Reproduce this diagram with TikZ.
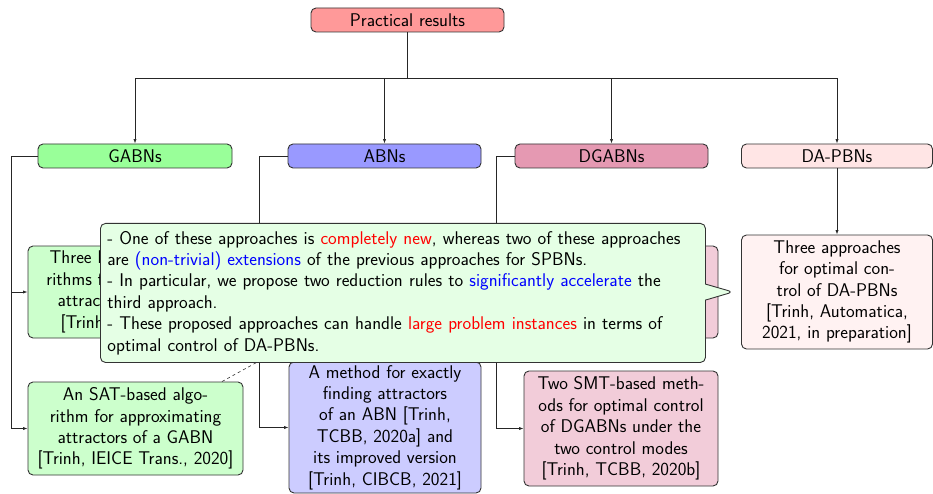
\documentclass[tikz,border=0pt]{standalone}
\usetikzlibrary{shapes.callouts,arrows.meta,calc}
\begin{document}
\begin{tikzpicture}[x=1pt,y=-1pt,
  font=\sffamily\fontsize{18.4}{21.4}\selectfont,
  box/.style={draw=black!80, line width=0.9pt, rounded corners=5pt, inner sep=0pt, align=center},
  head/.style={box, minimum width=193, minimum height=24},
  conn/.style={draw=black!85, line width=0.7pt, -{Latex[length=4.5pt,width=3.2pt]}}]
\useasboundingbox (0,0) rectangle (933,494);

% top level
\node[head, fill=red!40] (root) at (407.5,20) {Practical results};
\node[head, fill=green!40, minimum width=194] (gabn) at (135,156) {GABNs};
\node[head, fill=blue!40] (abn) at (384.5,156) {ABNs};
\node[head, fill=purple!40] (dgabn) at (611.5,156) {DGABNs};
\node[head, fill=red!10, minimum width=191] (dapbn) at (837,156) {DA-PBNs};

% results
\node[box, fill=green!20, minimum width=215, minimum height=92] (g1) at (135.5,292)
  {Three BDD-based algo-\\rithms for approximating\\attractors of a GABN\\{}[Trinh, TCBB, 2019]};
\node[box, fill=green!20, minimum width=215, minimum height=93] (g2) at (135.5,428.5)
  {An SAT-based algo-\\rithm for approximating\\attractors of a GABN\\{}[Trinh, IEICE Trans., 2020]};
\node[box, fill=blue!20, minimum width=192, minimum height=131] (a2) at (385,427.5)
  {A method for exactly\\finding attractors\\of an ABN [Trinh,\\TCBB, 2020a] and\\its improved version\\{}[Trinh, CIBCB, 2021]};
\node[box, fill=purple!20, minimum width=194, minimum height=92] (d1) at (621,292) {};
\node[box, fill=purple!20, minimum width=194, minimum height=115] (d2) at (621,428.5)
  {Two SMT-based meth-\\ods for optimal control\\of DGABNs under the\\two control modes\\{}[Trinh, TCBB, 2020b]};
\node[box, fill=red!5, minimum width=191, minimum height=114] (p1) at (837,292)
  {Three approaches\\for optimal con-\\trol of DA-PBNs\\{}[Trinh, Automatica,\\2021, in preparation]};

% tree connectors
\draw[conn] (root.south) -- ++(0,46) -| (gabn.north);
\draw[conn] (root.south) -- ++(0,46) -| (abn.north);
\draw[conn] (root.south) -- ++(0,46) -| (dgabn.north);
\draw[conn] (root.south) -- ++(0,46) -| (dapbn.north);

\draw[conn] (gabn.west) -- ++(-26,0) |- (g1.west);
\draw[conn] (gabn.west) -- ++(-26,0) |- (g2.west);
\draw[conn] (abn.west) -- ++(-28,0) |- (a2.west);
\draw[conn] (dgabn.west) -- ++(-18,0) |- (d1.west);
\draw[conn] (dgabn.west) -- ++(-18,0) |- (d2.west);
\draw[conn] (dapbn.south) -- (p1.north);

\coordinate (dashend) at (290,344);
\draw[dashed, line width=0.6pt, black!80] ($(g2.north)+(86.5,0)$) -- (dashend);

% remark callout
\node[draw=black!80, line width=0.9pt, rounded corners=5pt, fill=green!10,
  rectangle callout, callout absolute pointer={(733,292)}, callout pointer width=16pt,
  anchor=north west, text width=591, inner xsep=7pt, inner ysep=0pt,
  minimum height=139, align=left] (note) at (100,223)
  {- One of these approaches is \textcolor{red}{completely new}, whereas two of these approaches\\
   are \textcolor{blue}{(non-trivial) extensions} of the previous approaches for SPBNs.\\
   - In particular, we propose two reduction rules to \textcolor{blue}{significantly accelerate} the\\
   third approach.\\
   - These proposed approaches can handle \textcolor{red}{large problem instances} in terms of\\
   optimal control of DA-PBNs.};
\end{tikzpicture}
\end{document}
